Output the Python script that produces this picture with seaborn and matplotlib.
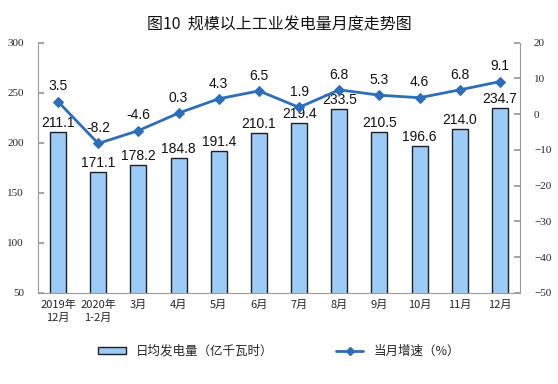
import numpy as np
import pandas as pd
import seaborn as sns
import matplotlib.pyplot as plt
from matplotlib.lines import Line2D
from matplotlib.patches import Patch

months = ["2019年\n12月", "2020年\n1-2月", "3月", "4月", "5月", "6月",
          "7月", "8月", "9月", "10月", "11月", "12月"]
daily_output = [211.1, 171.1, 178.2, 184.8, 191.4, 210.1,
                219.4, 233.5, 210.5, 196.6, 214.0, 234.7]
growth = [3.5, -8.2, -4.6, 0.3, 4.3, 6.5, 1.9, 6.8, 5.3, 4.6, 6.8, 9.1]

bar_color = "#9DCBF7"
line_color = "#2E6DB8"
axis_color = "#9a9a9a"

sns.set_theme(style="white")
plt.rcParams["font.family"] = ["Noto Sans CJK SC", "DejaVu Sans"]

df = pd.DataFrame({"month": months, "output": daily_output, "growth": growth})
df["pos"] = np.arange(len(df))

fig = plt.figure(figsize=(5.58, 3.84), dpi=100)
ax = fig.add_axes([0.068, 0.237, 0.864, 0.652])

sns.barplot(data=df, x="month", y="output", color=bar_color, width=0.4,
            edgecolor="#1f1f1f", linewidth=1.0, saturation=1, ax=ax)
ax.set_ylim(50, 300)
ax.set_xlim(-0.5, len(df) - 0.5)
ax.set_yticks(range(50, 301, 50))
ax.set_xlabel("")
ax.set_ylabel("")

for i, v in enumerate(daily_output):
    ax.text(i, v + 2, f"{v:.1f}", ha="center", va="bottom", fontsize=10,
            family="Liberation Sans", color="#111111")

ax2 = ax.twinx()
sns.lineplot(data=df, x="pos", y="growth", color=line_color, marker="D",
             markersize=5, markeredgecolor=line_color, linewidth=2, ax=ax2)
ax2.set_ylim(-50, 20)
ax2.set_yticks(range(-50, 21, 10))
ax2.set_xlim(-0.5, len(df) - 0.5)
ax2.set_xlabel("")
ax2.set_ylabel("")

for i, g in enumerate(growth):
    ax2.text(i, g + 2.3, f"{g:.1f}", ha="center", va="bottom", fontsize=10,
             family="Liberation Sans", color="#111111")

for a in (ax, ax2):
    a.spines["top"].set_visible(False)
    for s in ("left", "right", "bottom"):
        a.spines[s].set_color(axis_color)
        a.spines[s].set_linewidth(0.8)
ax.spines["right"].set_visible(False)
ax2.spines["left"].set_visible(False)
ax2.spines["bottom"].set_visible(False)

ax.tick_params(axis="y", direction="in", length=4, color=axis_color,
               labelsize=8, pad=10, left=True)
ax2.tick_params(axis="y", direction="in", length=4, color=axis_color,
                labelsize=8, pad=10, right=True)
for lab in ax.get_yticklabels() + ax2.get_yticklabels():
    lab.set_family("Liberation Serif")
ax.tick_params(axis="x", length=0, labelsize=8, pad=5)
ax.set_xticks(np.arange(len(df)))
ax.set_xticklabels(months, fontsize=8, linespacing=1.3)

fig.text(0.5, 0.935, "图10  规模以上工业发电量月度走势图", ha="center", va="center",
         fontsize=11.5, color="#111111")

handles = [Patch(facecolor=bar_color, edgecolor="#1f1f1f", linewidth=1.0),
           Line2D([0], [0], color=line_color, marker="D", markersize=4, linewidth=2)]
fig.legend(handles, ["日均发电量（亿千瓦时）", "当月增速（%）"], loc="center",
           bbox_to_anchor=(0.5, 0.085), ncol=2, frameon=False, fontsize=9,
           handlelength=2.2, handleheight=0.5, columnspacing=5)

fig.savefig("out.png", dpi=100)
